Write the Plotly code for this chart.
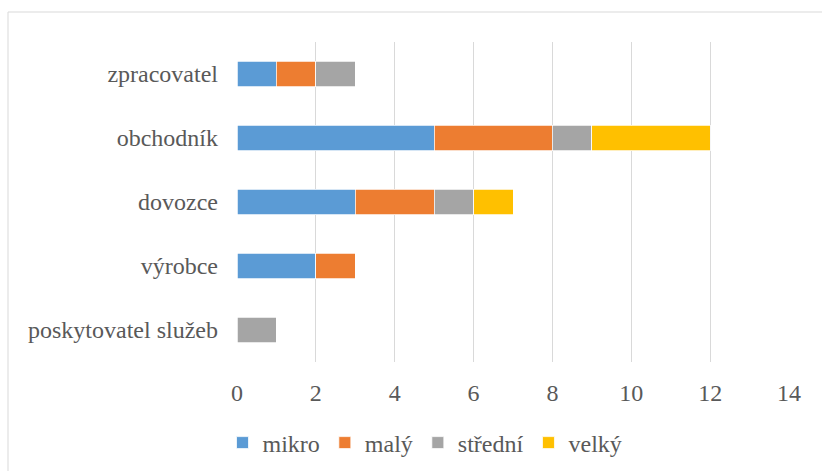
import plotly.graph_objects as go

categories = ["poskytovatel služeb", "výrobce", "dovozce", "obchodník", "zpracovatel"]
mikro = [0, 2, 3, 5, 1]
maly = [0, 1, 2, 3, 1]
stredni = [1, 0, 1, 1, 1]
velky = [0, 0, 1, 3, 0]
series_names = ["mikro", "malý", "střední", "velký"]
colors = ["#5B9BD5", "#ED7D31", "#A5A5A5", "#FFC000"]
x_ticks = [0, 2, 4, 6, 8, 10, 12, 14]

fig = go.Figure()
for name, vals, col in zip(series_names, [mikro, maly, stredni, velky], colors):
    fig.add_trace(go.Bar(
        y=categories, x=vals, name=name, orientation="h",
        marker=dict(color=col, line=dict(color="white", width=0.75)),
    ))

L, R, T, B = 237, 33, 42, 109
W, H = 822, 471
pw, ph = W - L - R, H - T - B

def px_x(p):
    return (p - L) / pw

def px_y(p):
    return (H - B - p) / ph

FONT = "Liberation Serif"

fig.update_layout(
    width=W, height=H,
    margin=dict(l=L, r=R, t=T, b=B, autoexpand=False),
    barmode="stack", bargap=0.6,
    paper_bgcolor="white", plot_bgcolor="white",
    font=dict(family=FONT, size=24, color="#595959"),
    showlegend=True,
    legend=dict(orientation="h", x=px_x(425), xanchor="center", y=px_y(443), yanchor="middle",
                font=dict(family=FONT, size=24, color="#595959"), traceorder="normal",
                itemwidth=30, tracegroupgap=0),
    xaxis=dict(range=[0, 14], tickvals=x_ticks, showgrid=True, gridcolor="#D9D9D9", gridwidth=1,
               zeroline=False, showline=False, ticks="", ticklabelstandoff=14, fixedrange=True,
               tickfont=dict(family=FONT, size=24, color="#595959")),
    yaxis=dict(categoryorder="array", categoryarray=categories, showgrid=False, zeroline=False,
               showline=False, ticks="", ticklabelstandoff=18,
               tickfont=dict(family=FONT, size=24, color="#595959")),
    shapes=[dict(type="rect", xref="paper", yref="paper",
                 x0=px_x(8), x1=px_x(830), y0=px_y(480), y1=px_y(12),
                 line=dict(color="#D9D9D9", width=1), fillcolor="rgba(0,0,0,0)", layer="below")],
)

fig.write_html("out.html")
